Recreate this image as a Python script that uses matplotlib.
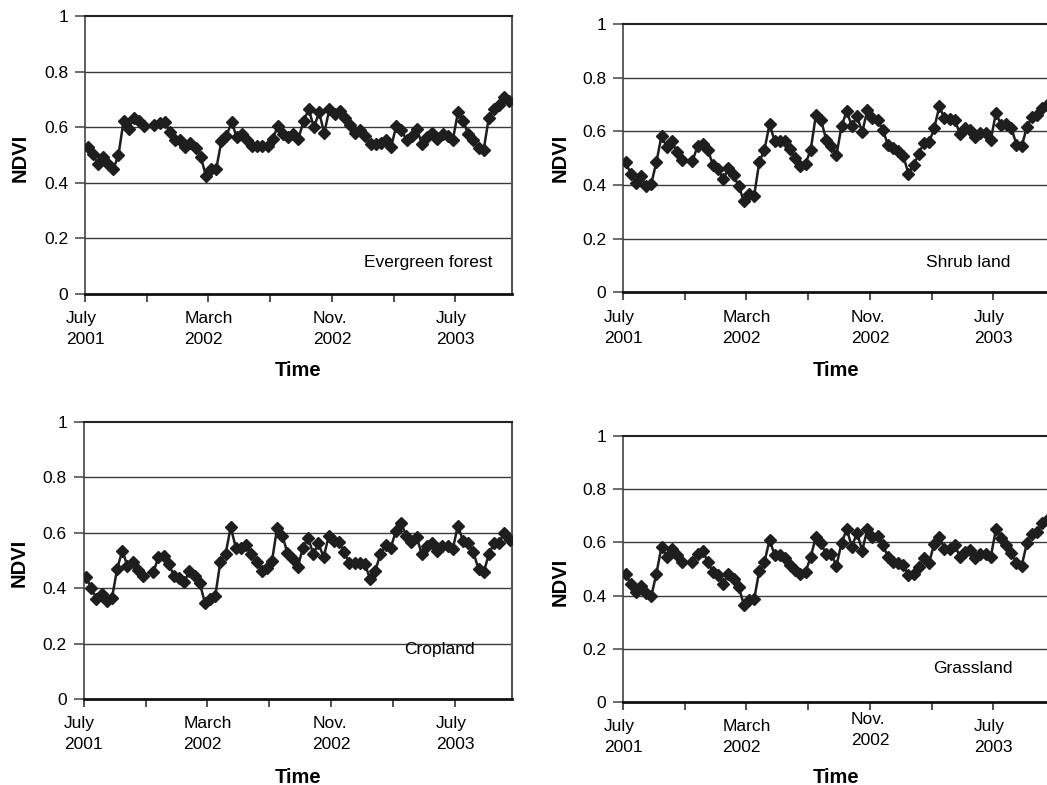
import numpy as np
import matplotlib.pyplot as plt
from matplotlib.transforms import ScaledTranslation

plt.rcParams['font.family'] = ['Liberation Sans', 'DejaVu Sans']

nan = np.nan

# NDVI, 10-day composites from July 2001 (one missing composite)
evergreen = [0.53, 0.505, 0.47, 0.495, 0.47, 0.45, 0.50, 0.625, 0.595, 0.635,
             0.625, 0.605, nan, 0.61, 0.615, 0.62, 0.585, 0.555, 0.555, 0.53,
             0.545, 0.525, 0.495, 0.425, 0.45, 0.45, 0.55, 0.57, 0.62, 0.565,
             0.575, 0.555, 0.535, 0.535, 0.535, 0.535, 0.56, 0.605, 0.575, 0.565,
             0.575, 0.56, 0.625, 0.665, 0.60, 0.655, 0.58, 0.665, 0.65, 0.66,
             0.635, 0.61, 0.58, 0.59, 0.57, 0.54, 0.54, 0.545, 0.555, 0.53,
             0.605, 0.59, 0.555, 0.57, 0.595, 0.54, 0.565, 0.58, 0.56, 0.575,
             0.57, 0.555, 0.655, 0.625, 0.575, 0.555, 0.525, 0.52, 0.635, 0.665,
             0.68, 0.71, 0.695]

shrub = [0.486, 0.443, 0.409, 0.433, 0.396, 0.405, 0.486, 0.584, 0.542, 0.563,
         0.525, 0.495, nan, 0.49, 0.544, 0.554, 0.532, 0.474, 0.46, 0.421,
         0.464, 0.436, 0.396, 0.341, 0.365, 0.36, 0.486, 0.532, 0.627, 0.563,
         0.563, 0.563, 0.536, 0.50, 0.473, 0.48, 0.532, 0.66, 0.643, 0.569,
         0.547, 0.511, 0.621, 0.675, 0.619, 0.658, 0.596, 0.679, 0.649, 0.643,
         0.606, 0.551, 0.538, 0.526, 0.507, 0.443, 0.474, 0.517, 0.557, 0.559,
         0.612, 0.693, 0.649, 0.646, 0.643, 0.591, 0.612, 0.604, 0.581, 0.594,
         0.594, 0.569, 0.668, 0.625, 0.628, 0.612, 0.551, 0.544, 0.615, 0.653,
         0.662, 0.686, 0.70]

cropland = [0.439, 0.40, 0.362, 0.38, 0.354, 0.364, 0.469, 0.535, 0.481, 0.495,
            0.465, 0.445, nan, 0.457, 0.511, 0.517, 0.487, 0.445, 0.436, 0.421,
            0.463, 0.445, 0.418, 0.348, 0.362, 0.371, 0.495, 0.523, 0.62, 0.546,
            0.546, 0.556, 0.525, 0.495, 0.463, 0.471, 0.499, 0.618, 0.59, 0.526,
            0.505, 0.477, 0.546, 0.582, 0.523, 0.562, 0.511, 0.59, 0.57, 0.567,
            0.531, 0.489, 0.489, 0.489, 0.487, 0.433, 0.463, 0.523, 0.555, 0.546,
            0.606, 0.636, 0.588, 0.567, 0.586, 0.523, 0.552, 0.562, 0.535, 0.552,
            0.552, 0.54, 0.626, 0.57, 0.562, 0.529, 0.469, 0.457, 0.523, 0.562,
            0.564, 0.60, 0.573]

grassland = [0.483, 0.445, 0.414, 0.436, 0.408, 0.397, 0.483, 0.584, 0.546, 0.577,
             0.552, 0.527, nan, 0.527, 0.558, 0.567, 0.527, 0.489, 0.477, 0.445,
             0.483, 0.464, 0.433, 0.366, 0.382, 0.386, 0.493, 0.527, 0.609, 0.552,
             0.552, 0.54, 0.514, 0.498, 0.483, 0.489, 0.546, 0.621, 0.596, 0.556,
             0.556, 0.512, 0.599, 0.649, 0.584, 0.636, 0.569, 0.649, 0.621, 0.624,
             0.592, 0.546, 0.527, 0.523, 0.514, 0.477, 0.483, 0.508, 0.54, 0.523,
             0.594, 0.619, 0.577, 0.577, 0.59, 0.546, 0.565, 0.571, 0.542, 0.558,
             0.555, 0.546, 0.649, 0.615, 0.59, 0.562, 0.523, 0.511, 0.596, 0.63,
             0.64, 0.672, 0.685]

names = ['Evergreen forest', 'Shrub land', 'Cropland', 'Grassland']
tick_pos = [0, 24, 48, 72]
tick_labels = ['July\n2001', 'March\n2002', 'Nov.\n2002', 'July\n2003']
minor_pos = [12, 36, 60]
y_ticks = [0, 0.2, 0.4, 0.6, 0.8, 1.0]
y_labels = ['0', '0.2', '0.4', '0.6', '0.8', '1']

# axes rectangles (fig fraction), label positions (axes fraction)
layout = [
    dict(rect=[0.0812, 0.6255, 0.4078, 0.3535], name_xy=(0.955, 0.112),
         ndvi=(-0.152, 0.49), time_y=-0.274, nov_up=0),
    dict(rect=[0.5950, 0.6274, 0.4078, 0.3420], name_xy=(0.907, 0.110),
         ndvi=(-0.148, 0.50), time_y=-0.289, nov_up=0),
    dict(rect=[0.0798, 0.1096, 0.4093, 0.3529], name_xy=(0.913, 0.180),
         ndvi=(-0.150, 0.49), time_y=-0.282, nov_up=0),
    dict(rect=[0.5950, 0.1057, 0.4078, 0.3389], name_xy=(0.913, 0.125),
         ndvi=(-0.148, 0.45), time_y=-0.282, nov_up=5),
]

fig = plt.figure(figsize=(10.47, 7.85), dpi=100)

for series, name, lay in zip([evergreen, shrub, cropland, grassland], names, layout):
    ax = fig.add_axes(lay['rect'])
    y = np.array(series)
    x = np.arange(len(y)) + 0.5
    ax.plot(x, y, color='#1e1e1e', lw=1.8, marker='D', ms=6,
            markeredgecolor='#1e1e1e', markerfacecolor='#1e1e1e', zorder=3)

    ax.set_xlim(0, len(y))
    ax.set_ylim(0, 1)
    ax.set_yticks(y_ticks)
    ax.set_yticklabels(y_labels)
    ax.set_xticks(tick_pos)
    ax.set_xticklabels(tick_labels)
    ax.set_xticks(minor_pos, minor=True)

    ax.tick_params(axis='y', direction='out', length=7, width=1.1,
                   color='#444444', pad=5, labelsize=12.5)
    ax.tick_params(axis='x', which='both', direction='out', length=6,
                   width=1.1, color='#222222', pad=6.5, labelsize=12.5)

    for i, lbl in enumerate(ax.get_xticklabels()):
        lbl.set_multialignment('left')
        lbl.set_linespacing(1.5)
        if i == 2 and lay['nov_up']:
            lbl.set_transform(lbl.get_transform() +
                              ScaledTranslation(0, lay['nov_up'] / 72,
                                                fig.dpi_scale_trans))

    for v in [0.2, 0.4, 0.6, 0.8]:
        ax.axhline(v, color='#3a3a3a', lw=1.0, zorder=1)

    ax.spines['bottom'].set_linewidth(2.0)
    ax.spines['bottom'].set_color('#111111')
    ax.spines['top'].set_linewidth(1.5)
    ax.spines['top'].set_color('#222222')
    ax.spines['left'].set_linewidth(1.2)
    ax.spines['left'].set_color('#444444')
    ax.spines['right'].set_linewidth(1.5)
    ax.spines['right'].set_color('#555555')

    ax.text(lay['name_xy'][0], lay['name_xy'][1], name, transform=ax.transAxes,
            ha='right', va='center', fontsize=12.5)

    ax.set_ylabel('NDVI', fontweight='bold', fontsize=14.5)
    ax.yaxis.set_label_coords(*lay['ndvi'])
    ax.yaxis.label.set_va('center')
    ax.set_xlabel('Time', fontweight='bold', fontsize=14.5)
    ax.xaxis.set_label_coords(0.5, lay['time_y'])
    ax.xaxis.label.set_va('center')

fig.savefig('out.png', dpi=100)
